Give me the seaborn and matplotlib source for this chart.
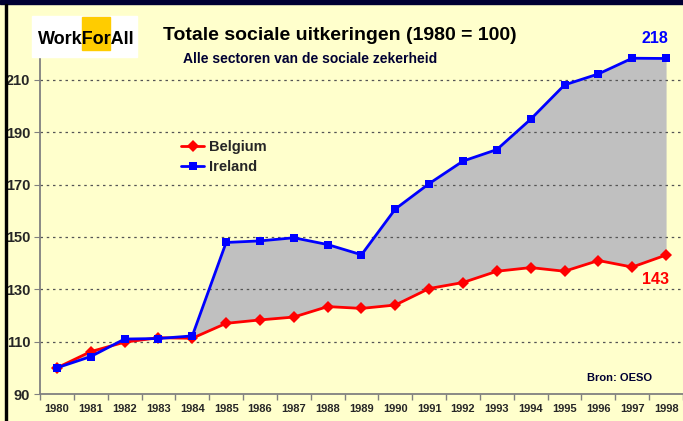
import matplotlib.pyplot as plt
import matplotlib.patches as mpatches
import numpy as np
import pandas as pd
import seaborn as sns

years = list(range(1980, 1999))
belgium = [100, 106.2, 109.8, 111.5, 111.3, 117.0, 118.3, 119.4, 123.4, 122.7,
           124.0, 130.3, 132.6, 136.9, 138.3, 136.9, 141.0, 138.5, 143.1]
ireland = [100, 104.3, 111.0, 111.2, 112.2, 147.9, 148.5, 149.7, 147.1, 143.2,
           160.7, 170.4, 179.0, 183.4, 195.0, 208.1, 212.3, 218.3, 218.2]
countries = ["Belgium", "Ireland"]
yticks = [90, 110, 130, 150, 170, 190, 210]

df = pd.DataFrame({
    "year": years * 2,
    "value": belgium + ireland,
    "country": ["Belgium"] * len(years) + ["Ireland"] * len(years),
})

W, H = 683, 421
bg = "#FFFFCC"

sns.set_style("ticks")
plt.rcParams["font.family"] = ["Liberation Sans", "DejaVu Sans"]
plt.rcParams["font.weight"] = "bold"

fig = plt.figure(figsize=(W / 100, H / 100), dpi=100, facecolor=bg)


def fx(px):
    return px / W


def fy(py):
    return 1 - py / H


ax = fig.add_axes([fx(40), fy(394), fx(683) - fx(40), fy(27.6) - fy(394)])
ax.set_facecolor(bg)

ax.fill_between(years, belgium, ireland, color="#C0C0C0", lw=0, zorder=1)
sns.lineplot(data=df, x="year", y="value", hue="country", style="country",
             palette={"Belgium": "#FF0000", "Ireland": "#0000FF"},
             markers={"Belgium": "D", "Ireland": "s"}, dashes=False,
             markersize=6, markeredgewidth=0, linewidth=2, ax=ax, zorder=3)

ax.set_xlim(1979.5, 1998.5)
ax.set_ylim(90, 230)
ax.set_yticks(yticks)
ax.set_xticks(years)
ax.set_xticks(np.arange(1979.5, 1999, 1), minor=True)
ax.tick_params(axis="x", which="major", length=0, labelsize=8, pad=7)
ax.tick_params(axis="x", which="minor", length=4, color="#808080", width=1)
ax.tick_params(axis="y", length=4, color="#808080", labelsize=10.5, pad=3)
for lab in ax.get_xticklabels() + ax.get_yticklabels():
    lab.set_fontweight("bold")
ax.set_xlabel("")
ax.set_ylabel("")
for y in yticks[1:]:
    ax.axhline(y, color="#555555", lw=0.9, ls=(0, (2, 3)), zorder=2)
sns.despine(ax=ax)
for s in ["left", "bottom"]:
    ax.spines[s].set_color("#808080")
    ax.spines[s].set_linewidth(1.3)

ax.legend(loc="upper left", bbox_to_anchor=((168 - 40) / 643, 1 - (127 - 27.6) / 366.4),
          frameon=False, handlelength=1.6, handletextpad=0.3,
          labelspacing=0.4, prop={"weight": "bold", "size": 10.5})

ax.annotate("218", (1998, ireland[-1]), xytext=(-11, 20), textcoords="offset pixels",
            ha="center", va="center", color="#0000FF", fontsize=11.5, fontweight="bold")
ax.annotate("143", (1998, belgium[-1]), xytext=(-11, -24), textcoords="offset pixels",
            ha="center", va="center", color="#FF0000", fontsize=11.5, fontweight="bold")

fig.text(fx(340), fy(35), "Totale sociale uitkeringen (1980 = 100)", ha="center",
         va="center", fontsize=14, fontweight="bold", color="#000000")
fig.text(fx(183), fy(59), "Alle sectoren van de sociale zekerheid", ha="left",
         va="center", fontsize=10, fontweight="bold", color="#000033")
fig.text(fx(620), fy(378), "Bron: OESO", ha="center", va="center",
         fontsize=8, fontweight="bold", color="#000033")

# logo
fig.patches.append(mpatches.Rectangle((fx(32), fy(57)), fx(105), fy(16) - fy(57),
                                      transform=fig.transFigure, color="white", zorder=5))
fig.patches.append(mpatches.Rectangle((fx(82), fy(50)), fx(28), fy(17) - fy(50),
                                      transform=fig.transFigure, color="#FFCC00", zorder=6))
fig.text(fx(86), fy(40), "WorkForAll", ha="center", va="center", fontsize=13,
         fontweight="heavy", color="black", zorder=7)

# frame
fig.patches.append(mpatches.Rectangle((0, fy(4)), 1, fy(0) - fy(4),
                                      transform=fig.transFigure, color="#000033", zorder=8))
fig.patches.append(mpatches.Rectangle((fx(5), 0), fx(1.5), fy(4),
                                      transform=fig.transFigure, color="#000000", zorder=8))

fig.savefig("out.png", dpi=100, facecolor=bg)
